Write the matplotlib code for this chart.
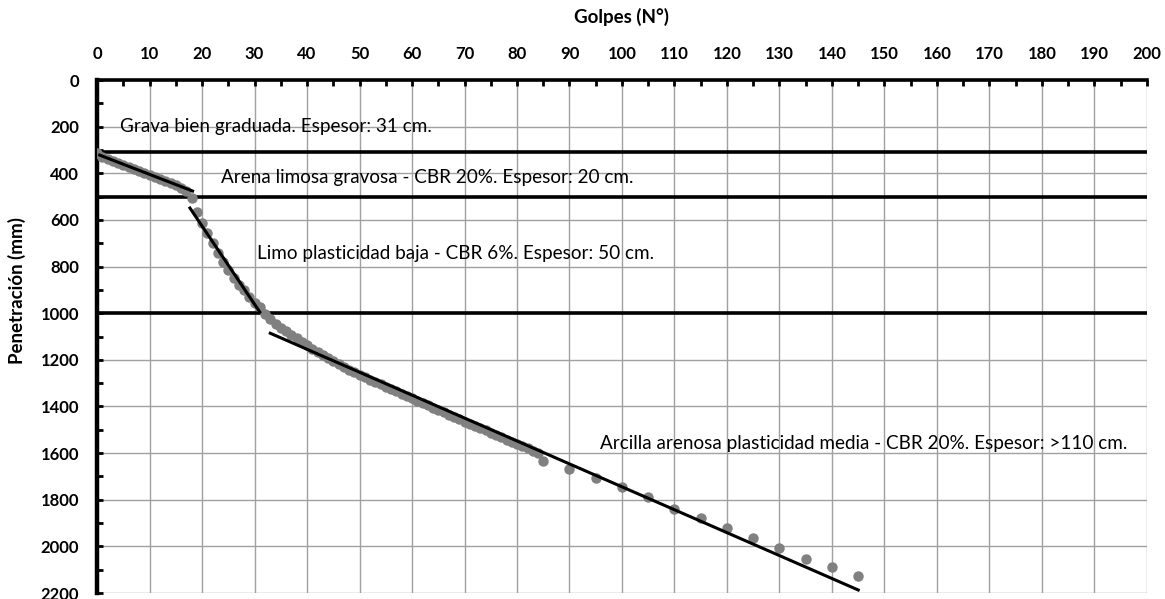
import matplotlib
matplotlib.use('Agg')
import matplotlib.pyplot as plt
from matplotlib import ticker

plt.rcParams['font.family'] = ['Lato', 'DejaVu Sans']

# ensayo DCP: golpes acumulados vs penetracion (mm)
golpes = list(range(0, 86)) + [90, 95, 100, 105, 110, 115, 120, 125, 130, 135, 140, 145]
penetracion = [
    312, 330, 340, 348, 356, 365, 373, 381, 389, 398,
    407, 415, 423, 431, 440, 450, 462, 478, 508, 565,
    615, 657, 700, 743, 779, 815, 850, 879, 900, 929,
    958, 975, 1005, 1025, 1045, 1062, 1078, 1093, 1108, 1123,
    1138, 1152, 1166, 1180, 1193, 1206, 1218, 1230, 1242, 1253,
    1264, 1275, 1285, 1295, 1305, 1315, 1325, 1335, 1345, 1355,
    1365, 1375, 1385, 1395, 1405, 1415, 1425, 1435, 1445, 1455,
    1465, 1474, 1484, 1494, 1503, 1513, 1522, 1532, 1542, 1551,
    1561, 1570, 1580, 1590, 1600, 1632,
    1668, 1708, 1745, 1790, 1838, 1878, 1922, 1963, 2008, 2053, 2088, 2126,
]

# rectas de tendencia por estrato (extremos)
tend_x = [(0.5, 18.2), (17.7, 31.0), (33.0, 145.0)]
tend_y = [(322, 476), (549, 995), (1086, 2187)]

# limites de estratos (mm)
limites = [310, 500, 1000]

estratos = ['Grava bien graduada. Espesor: 31 cm.',
            'Arena limosa gravosa - CBR 20%. Espesor: 20 cm.',
            'Limo plasticidad baja - CBR 6%. Espesor: 50 cm.',
            'Arcilla arenosa plasticidad media - CBR 20%. Espesor: >110 cm.']
estratos_x = [4.4, 23.6, 30.5, 95.8]
estratos_y = [200, 420, 746, 1557]

fig = plt.figure(figsize=(11.65, 5.99), dpi=100)
ax = fig.add_axes([0.0833, 0.010, 0.9012, 0.8564])

ax.plot(golpes, penetracion, 'o', color='#808080', markersize=6.5, zorder=3)
for xs, ys in zip(tend_x, tend_y):
    ax.plot(xs, ys, color='black', linewidth=2.2, zorder=4)
for lim in limites:
    ax.axhline(lim, color='black', linewidth=2.6, zorder=2)

for txt, tx, ty in zip(estratos, estratos_x, estratos_y):
    ax.text(tx, ty, txt, fontsize=13.6, va='center', ha='left', zorder=5)

ax.set_xlim(0, 200)
ax.set_ylim(2200, 0)
ax.xaxis.set_major_locator(ticker.MultipleLocator(10))
ax.xaxis.set_minor_locator(ticker.MultipleLocator(5))
ax.yaxis.set_major_locator(ticker.MultipleLocator(200))
ax.yaxis.set_minor_locator(ticker.MultipleLocator(100))
ax.xaxis.tick_top()
ax.xaxis.set_label_position('top')
ax.tick_params(axis='both', which='both', direction='in', width=2, length=4,
               labelsize=12)
ax.tick_params(axis='x', which='both', top=True, bottom=False, pad=13)
ax.tick_params(axis='y', which='both', left=True, right=False, pad=13)
for lbl in ax.get_xticklabels() + ax.get_yticklabels():
    lbl.set_fontweight('bold')

ax.grid(True, which='major', color='#a0a0a0', linewidth=1)
ax.set_axisbelow(True)
for s in ['right', 'bottom']:
    ax.spines[s].set_visible(False)
ax.spines['top'].set_linewidth(2.6)
ax.spines['left'].set_linewidth(3.2)

ax.set_xlabel('Golpes (N°)', fontsize=13.5, fontweight='bold')
ax.set_ylabel('Penetración (mm)', fontsize=13.5, fontweight='bold')
ax.xaxis.set_label_coords(0.5, 1.123)
ax.yaxis.set_label_coords(-0.076, 0.59)
ax.xaxis.label.set_va('center')
ax.yaxis.label.set_va('center')

fig.savefig('out.png', dpi=100)
